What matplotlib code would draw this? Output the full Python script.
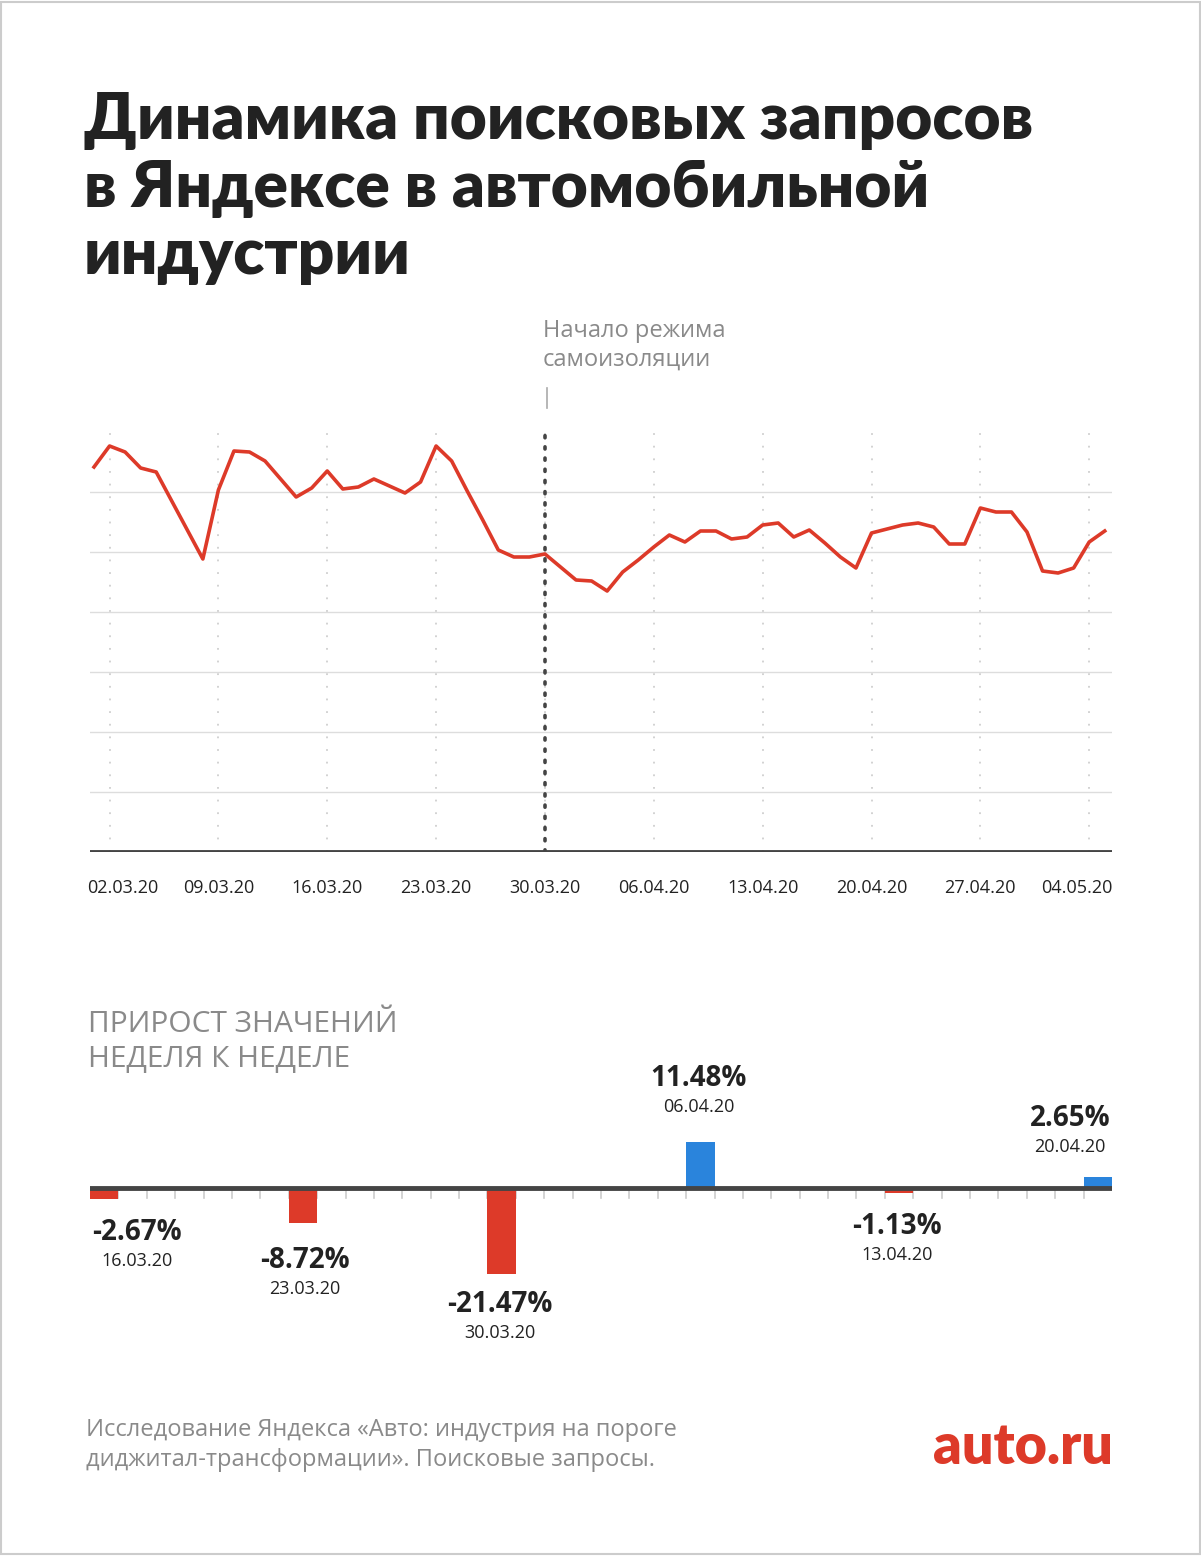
import matplotlib
matplotlib.use("Agg")
import matplotlib.pyplot as plt
import numpy as np
import pandas as pd

# ---- data ----
dates = pd.date_range("2020-03-01", "2020-05-05", freq="D")
values = [385, 406, 400, 384, 380, 351, 322, 293, 362, 401, 400, 391, 373, 355, 364, 381,
          363, 365, 373, 366, 359, 370, 406, 391, 361, 332, 302, 295, 295, 298, 285,
          272, 271, 261, 280, 292, 305, 317, 310, 321, 321, 313, 315, 327, 329, 315, 322,
          309, 295, 284, 319, 323, 327, 329, 325, 308, 308, 344, 340, 340, 320, 281, 279,
          284, 310, 321]
tick_dates = ["2020-03-02", "2020-03-09", "2020-03-16", "2020-03-23", "2020-03-30",
              "2020-04-06", "2020-04-13", "2020-04-20", "2020-04-27", "2020-05-04"]
tick_labels = ["02.03.20", "09.03.20", "16.03.20", "23.03.20", "30.03.20", "06.04.20",
               "13.04.20", "20.04.20", "27.04.20", "04.05.20"]
week_labels = ["16.03.20", "23.03.20", "30.03.20", "06.04.20", "13.04.20", "20.04.20"]
week_growth = [-2.67, -8.72, -21.47, 11.48, -1.13, 2.65]

W, H = 1201, 1556
fig = plt.figure(figsize=(W / 100, H / 100), dpi=100)
fig.patch.set_facecolor("white")
RED = "#dd3a29"
BLUE = "#2a84dc"
DARK = "#222222"
GRAY = "#8a8a8a"

def fx(px): return px / W
def fy(py): return 1 - py / H

fig.add_artist(plt.Rectangle((0.001, 0.001), 0.998, 0.998, transform=fig.transFigure,
                             fill=False, edgecolor="#cccccc", lw=1.5))

fig.text(fx(84), fy(188), "Динамика поисковых запросов\nв Яндексе в автомобильной\nиндустрии",
         fontsize=46, fontweight="black", family="Lato", color=DARK, va="center",
         linespacing=1.18)

# ---- line chart ----
x0, x1 = 90, 1112
ax = fig.add_axes([fx(x0), fy(852), fx(x1) - fx(x0), (852 - 425) / H])
xnum = np.arange(len(dates))
step = 15.55
ax.set_xlim(-4 / step, (x1 - 94) / step)
ax.set_ylim(0, 427)
for yv in range(60, 361, 60):
    ax.axhline(yv, color="#dddddd", lw=1, zorder=1)
tick_pos = [dates.get_loc(pd.Timestamp(d)) for d in tick_dates]
for tp in tick_pos:
    ax.plot([tp, tp], [0, 422], color="#cfcfcf", lw=1.3, ls=(0, (1, 6)), zorder=1)
ax.plot(xnum, values, color=RED, lw=2.6, zorder=3, solid_joinstyle="round")
iso = dates.get_loc(pd.Timestamp("2020-03-30"))
ax.plot([iso, iso], [0, 422], color="#444444", lw=2.6, ls=(0, (0.6, 2.5)),
        dash_capstyle="round", zorder=4)
ax.axhline(0, color="#444444", lw=3.5, zorder=5)
for s in ax.spines.values():
    s.set_visible(False)
ax.set_xticks([])
ax.set_yticks([])
ax.patch.set_alpha(0)
for i, (tp, lab) in enumerate(zip(tick_pos, tick_labels)):
    dx = 13 if i == 0 else (-12 if i == len(tick_pos) - 1 else 0)
    ax.annotate(lab, (tp, 0), xytext=(dx, -36), textcoords="offset pixels",
                ha="center", va="center", fontsize=13, family="Open Sans", color=DARK)

fig.text(fx(543), fy(345), "Начало режима\nсамоизоляции", fontsize=17, family="Open Sans",
         color=GRAY, va="center", linespacing=1.25)
fig.add_artist(plt.Line2D([fx(547), fx(547)], [fy(388), fy(408)], color="#aaaaaa", lw=1.2))

# ---- bar chart ----
fig.text(fx(88), fy(1042), "ПРИРОСТ ЗНАЧЕНИЙ\nНЕДЕЛЯ К НЕДЕЛЕ", fontsize=21.5, family="Open Sans",
         color=GRAY, va="center", linespacing=1.3)
bx = fig.add_axes([fx(x0), fy(1300), fx(x1) - fx(x0), 200 / H])
bx.set_xlim(0, 36)
bx.set_ylim(-28, 22)
pos = [7 * i for i in range(len(week_growth))]
cols = [BLUE if v > 0 else RED for v in week_growth]
bx.bar(pos, week_growth, width=1, align="edge", color=cols, zorder=3)
for c in range(1, 36):
    bx.plot([c, c], [0, -2.6], color="#cccccc", lw=1.2, zorder=1)
bx.axhline(0, color="#444444", lw=3.5, zorder=5)
bx.axis("off")

lab_x = [137, 305, 500, 699, 897, 1070]
lab_y = [1232, 1260, 1304, 1078, 1226, 1118]
for v, lab, px, py in zip(week_growth, week_labels, lab_x, lab_y):
    fig.text(fx(px), fy(py), f"{v:.2f}%", ha="center", va="center", fontsize=20,
             fontweight="bold", family="Open Sans", color=DARK)
    fig.text(fx(px), fy(py + 29), lab, ha="center", va="center", fontsize=13,
             family="Open Sans", color=DARK)

fig.text(fx(86), fy(1445), "Исследование Яндекса «Авто: индустрия на пороге\nдиджитал-трансформации». Поисковые запросы.",
         fontsize=17, family="Open Sans", color=GRAY, va="center", linespacing=1.3)
fig.text(fx(1113), fy(1447), "auto.ru", fontsize=40, fontweight="black", family="Lato",
         color=RED, ha="right", va="center")

fig.savefig("out.png", dpi=100)
